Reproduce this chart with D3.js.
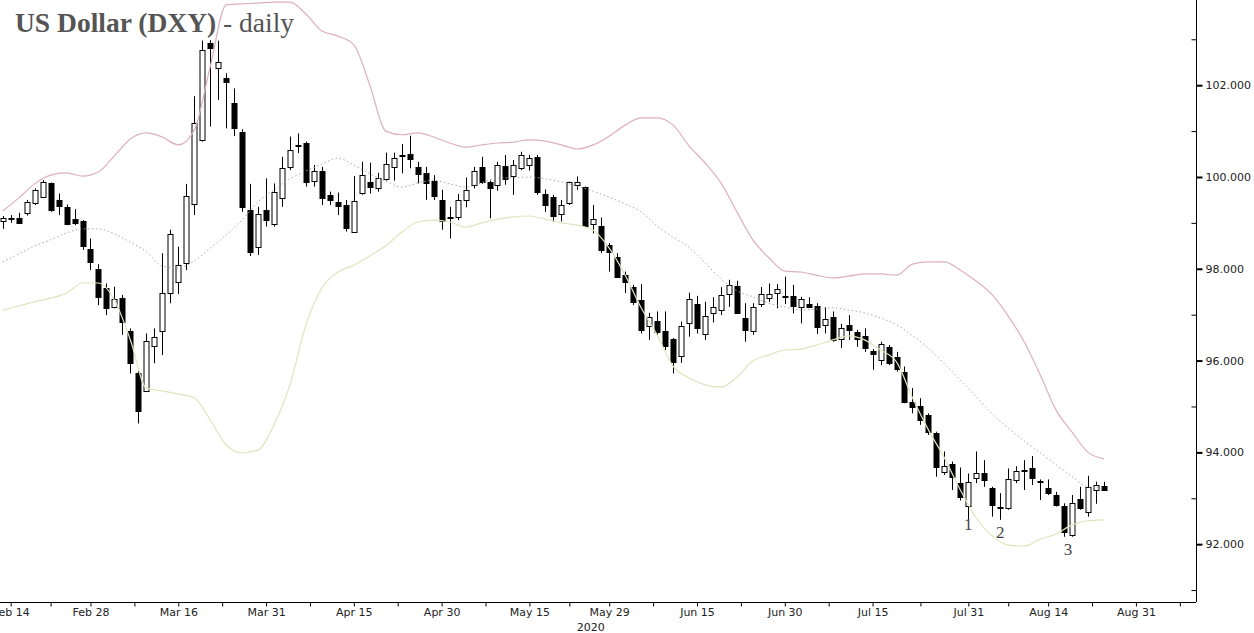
<!DOCTYPE html>
<html>
<head>
<meta charset="utf-8">
<script src="https://cdn.jsdelivr.net/npm/d3@7"></script>
<style>
  html, body { margin: 0; padding: 0; background: #fff; }
  svg { display: block; }
  .axis text { font-family: "DejaVu Sans", sans-serif; font-size: 11px; fill: #222; }
</style>
</head>
<body>
<div id="chart"></div>
<script>
// DXY daily candles, Feb 13 - Aug 25 2020 (one entry per weekday)
const opens = [99.03,99.10,99.11,99.21,99.44,99.56,99.86,99.50,99.34,99.08,
  99.05,98.43,97.99,97.59,97.16,97.36,96.65,95.72,95.34,96.33,
  96.65,97.47,97.71,98.13,99.41,100.81,102.93,102.37,102.15,101.61,
  100.99,99.28,98.47,99.28,98.99,99.54,100.22,100.70,100.75,99.90,
  100.12,99.61,99.46,99.39,98.81,99.64,99.90,99.75,99.95,100.21,
  100.48,100.50,100.22,100.09,99.91,99.50,99.11,99.12,99.51,99.81,
  100.22,99.88,99.83,100.24,100.02,100.19,100.26,100.43,99.64,99.56,
  99.19,99.43,99.83,99.78,98.98,98.93,98.51,98.26,97.86,97.60,
  97.32,96.74,96.86,96.65,96.46,96.09,96.81,97.23,96.58,97.02,
  97.10,97.45,97.63,96.92,96.63,97.23,97.36,97.47,97.41,97.41,
  97.16,97.23,97.19,96.78,96.96,96.45,96.78,96.62,96.54,96.20,
  96.01,96.30,96.07,95.76,95.10,95.01,94.81,94.42,93.56,93.75,
  93.33,92.82,93.44,93.54,93.22,92.80,92.80,93.41,93.60,93.67,
  93.38,93.22,93.07,92.83,92.20,92.98,92.71,93.19,93.27];
const highs = [99.15,99.17,99.22,99.50,99.75,99.93,99.88,99.64,99.40,99.30,
  99.06,98.66,98.10,97.68,97.61,97.43,96.70,95.77,96.59,96.70,
  98.34,98.85,98.48,99.85,101.76,102.97,102.98,102.97,102.26,101.93,
  101.04,99.85,99.35,99.97,99.86,100.44,100.88,100.95,100.77,100.26,
  100.22,99.68,99.66,99.50,100.02,100.33,100.31,100.09,100.53,100.53,
  100.72,100.90,100.33,100.22,100.04,99.72,99.35,99.63,99.99,100.22,
  100.44,99.92,100.33,100.48,100.37,100.55,100.48,100.48,99.73,99.61,
  99.50,99.90,100.01,99.79,99.39,99.12,98.56,98.34,97.94,97.65,
  97.67,97.04,97.07,97.07,96.49,96.85,97.48,97.41,97.28,97.38,
  97.60,97.76,97.74,97.25,97.25,97.60,97.68,97.67,97.83,97.65,
  97.39,97.38,97.25,97.16,97.07,96.80,96.99,96.67,96.70,96.25,
  96.41,96.34,96.19,95.87,95.40,95.18,94.85,94.45,94.02,93.80,
  93.67,93.54,94.02,93.83,93.25,93.11,93.65,93.70,93.83,93.92,
  93.41,93.41,93.14,92.89,93.07,93.25,93.49,93.36,93.36];
const lows = [98.87,99.00,99.00,99.16,99.39,99.54,99.24,99.17,98.95,98.95,
  98.41,97.97,97.21,96.99,97.14,96.56,95.72,94.63,95.32,95.94,
  96.12,97.25,97.45,97.97,99.17,100.77,101.10,101.68,101.06,100.89,
  99.24,98.28,98.30,98.92,98.92,99.35,100.15,100.52,99.79,99.79,
  99.39,99.39,99.17,98.81,98.81,99.61,99.64,99.68,99.92,99.92,
  100.08,100.19,99.86,99.50,99.50,98.85,98.66,99.06,99.34,99.75,
  99.85,99.10,99.70,99.83,99.61,100.15,100.14,99.61,99.24,99.03,
  99.03,99.39,99.72,98.90,98.77,98.34,97.94,97.81,97.47,97.21,
  96.59,96.45,96.56,96.23,95.72,95.95,96.52,96.59,96.45,96.83,
  96.99,97.17,97.03,96.41,96.56,97.17,97.28,97.14,97.23,97.03,
  96.81,97.16,96.58,96.59,96.41,96.27,96.45,96.30,96.19,95.80,
  95.90,95.90,95.76,95.07,94.85,94.60,94.38,93.47,93.51,93.18,
  92.95,92.53,93.33,93.25,92.60,92.53,92.75,93.33,93.18,93.29,
  92.96,93.07,92.82,92.16,92.16,92.75,92.60,92.88,93.18];
const closes = [99.10,99.10,99.01,99.45,99.72,99.88,99.27,99.37,98.98,99.00,
  98.50,98.14,97.38,97.16,97.34,96.83,95.95,94.90,96.43,96.52,
  97.47,98.76,98.08,99.59,101.17,102.77,102.83,102.50,102.06,101.06,
  99.35,98.37,99.19,99.06,99.68,100.19,100.59,100.68,99.90,100.12,
  99.54,99.50,99.37,98.88,99.48,100.04,99.80,99.97,100.28,100.41,
  100.47,100.39,100.06,99.88,99.59,99.04,99.12,99.50,99.72,100.12,
  99.90,99.75,100.26,99.95,100.26,100.48,100.41,99.67,99.39,99.15,
  99.39,99.88,99.90,98.93,99.08,98.41,98.35,97.83,97.70,97.28,
  96.67,96.94,96.61,96.32,95.95,96.75,97.34,96.70,96.97,97.16,
  97.43,97.65,97.04,96.65,97.16,97.45,97.45,97.55,97.40,97.19,
  97.34,97.17,96.73,96.90,96.45,96.70,96.67,96.46,96.27,96.13,
  96.36,95.95,95.80,95.10,95.00,94.71,94.43,93.68,93.70,93.46,
  93.02,93.35,93.54,93.38,92.85,92.81,93.43,93.60,93.62,93.46,
  93.37,93.11,92.85,92.27,92.89,92.78,93.25,93.30,93.19];

// Bollinger bands, one value every second trading day
const bandStep = 2;
const upperBand = [99.26,99.54,99.85,100.04,100.09,100.02,100.11,100.46,100.83,100.96,
  100.87,100.70,101.02,102.40,103.75,103.77,103.79,103.81,103.81,103.55,
  103.18,103.07,102.88,102.00,101.00,100.92,100.96,100.87,100.74,100.65,
  100.70,100.74,100.76,100.81,100.78,100.70,100.61,100.70,100.89,101.13,
  101.29,101.29,101.13,100.68,100.31,99.87,99.24,98.63,98.24,97.95,
  97.93,97.86,97.80,97.84,97.89,97.89,97.86,98.10,98.15,98.15,
  97.97,97.73,97.43,96.97,96.41,95.69,94.92,94.44,94.00,93.86];
const midBand = [98.15,98.32,98.50,98.63,98.78,98.87,98.87,98.76,98.58,98.37,
  98.06,98.02,98.17,98.45,98.74,99.06,99.46,99.72,99.96,100.13,
  100.28,100.41,100.26,100.07,99.91,99.78,99.87,99.93,99.85,99.78,
  99.87,99.98,99.98,100.00,99.96,99.89,99.80,99.69,99.56,99.41,
  99.24,98.93,98.69,98.47,98.13,97.78,97.52,97.39,97.25,97.17,
  97.10,97.12,97.15,97.10,97.04,96.93,96.78,96.54,96.27,95.93,
  95.58,95.21,94.84,94.53,94.25,93.99,93.73,93.47,93.25,93.22];
const lowerBand = [97.10,97.19,97.28,97.36,97.47,97.69,97.69,97.32,96.45,95.40,
  95.34,95.27,95.19,94.71,94.16,93.99,94.05,94.60,95.47,96.78,
  97.58,97.93,98.08,98.28,98.50,98.80,99.02,99.06,99.02,98.91,
  99.00,99.08,99.13,99.15,99.08,99.00,98.95,98.84,98.45,97.86,
  97.15,96.56,95.88,95.62,95.47,95.42,95.64,95.99,96.12,96.23,
  96.25,96.34,96.45,96.54,96.45,96.23,95.97,95.19,94.49,93.88,
  93.18,92.57,92.18,91.98,91.96,92.11,92.22,92.42,92.51,92.53];

// x axis: labelled trading days (index into the series)
const tickDays = [1, 11, 22, 33, 44, 55, 66, 76, 87, 98, 109, 121, 131, 142];
const tickLabels = ["Feb 14", "Feb 28", "Mar 16", "Mar 31", "Apr 15", "Apr 30", "May 15",
  "May 29", "Jun 15", "Jun 30", "Jul 15", "Jul 31", "Aug 14", "Aug 31"];
const nextTickDay = 153;
const yearLabel = "2020";
const yearDay = 73.7;

// y axis
const yMajor = [92, 94, 96, 98, 100, 102];
const yMinor = [91, 93, 95, 97, 99, 101, 103];

// wave count annotations
const noteText = ["1", "2", "3"];
const noteDay = [121, 125, 133.5];
const noteValue = [92.30, 92.13, 91.77];

const W = 1254, H = 633;
const plotRight = 1196, plotBottom = 602;

const x = d3.scaleLinear().domain([0, 138]).range([2.7, 1104]);
const y = d3.scaleLinear().domain([90.74, 103.856]).range([plotBottom, 0]);

const svg = d3.select("#chart").append("svg")
  .attr("width", W)
  .attr("height", H);

svg.append("clipPath").attr("id", "plotClip")
  .append("rect").attr("x", 0).attr("y", 0).attr("width", plotRight).attr("height", plotBottom);

const plot = svg.append("g").attr("clip-path", "url(#plotClip)");

const candles = opens.map((o, i) => ({i: i, o: o, h: highs[i], l: lows[i], c: closes[i]}));

const px = d => Math.round(x(d.i));

// wicks
plot.selectAll(".wick")
  .data(candles)
  .enter().append("line")
  .attr("class", "wick")
  .attr("x1", d => px(d) + 0.5)
  .attr("x2", d => px(d) + 0.5)
  .attr("y1", d => y(d.h))
  .attr("y2", d => y(d.l))
  .attr("stroke", "#000")
  .attr("stroke-width", 1);

// bodies
plot.selectAll(".body")
  .data(candles)
  .enter().append("rect")
  .attr("class", "body")
  .attr("x", d => px(d) - 2)
  .attr("width", 5)
  .attr("y", d => Math.round(y(Math.max(d.o, d.c))) + 0.5)
  .attr("height", d => Math.max(1, Math.round(Math.abs(y(d.o) - y(d.c)))))
  .attr("fill", d => d.c > d.o ? "#fff" : "#000")
  .attr("stroke", "#000")
  .attr("stroke-width", 1);

// bands on top of the candles
const bandLine = d3.line()
  .x((d, k) => x(k * bandStep))
  .y(d => y(d))
  .curve(d3.curveMonotoneX);

plot.append("path")
  .datum(upperBand)
  .attr("d", bandLine)
  .attr("fill", "none")
  .attr("stroke", "#ddb0bd")
  .attr("stroke-width", 1.2);

plot.append("path")
  .datum(lowerBand)
  .attr("d", bandLine)
  .attr("fill", "none")
  .attr("stroke", "#e2e3bf")
  .attr("stroke-width", 1.2);

plot.append("path")
  .datum(midBand)
  .attr("d", bandLine)
  .attr("fill", "none")
  .attr("stroke", "#a8a8a8")
  .attr("stroke-width", 1)
  .attr("stroke-dasharray", "1.5,2.5");

// right axis
const yAxis = svg.append("g").attr("class", "axis")
  .attr("transform", "translate(" + (plotRight + 0.5) + ",0)")
  .call(d3.axisRight(y).tickValues(yMajor).tickSize(6).tickPadding(3)
    .tickFormat(d3.format(".3f")));
yAxis.select(".domain").attr("d", "M0,0V" + plotBottom).attr("stroke", "#000");
yAxis.selectAll(".tick line").attr("stroke", "#000").attr("stroke-width", 2);

svg.append("g").attr("class", "axis")
  .attr("transform", "translate(" + (plotRight + 0.5) + ",0)")
  .call(d3.axisLeft(y).tickValues(yMinor).tickSize(5).tickFormat(""))
  .call(g => g.select(".domain").remove())
  .call(g => g.selectAll(".tick line").attr("stroke", "#000"));

// bottom axis
const xAxis = svg.append("g").attr("class", "axis")
  .attr("transform", "translate(0," + (plotBottom + 0.5) + ")")
  .call(d3.axisBottom(x).tickValues(tickDays).tickSize(4).tickPadding(2)
    .tickFormat((d, k) => tickLabels[k]));
xAxis.select(".domain").attr("d", "M0,0H" + plotRight).attr("stroke", "#000");
xAxis.selectAll(".tick line").attr("stroke", "#000");

const midDays = tickDays.map((d, k) => (d + (k < tickDays.length - 1 ? tickDays[k + 1] : nextTickDay)) / 2);
svg.append("g").attr("class", "axis")
  .attr("transform", "translate(0," + (plotBottom + 0.5) + ")")
  .call(d3.axisBottom(x).tickValues(midDays).tickSize(4).tickFormat(""))
  .call(g => g.select(".domain").remove())
  .call(g => g.selectAll(".tick line").attr("stroke", "#000"));

svg.append("text")
  .attr("x", x(yearDay))
  .attr("y", 631)
  .attr("text-anchor", "middle")
  .style("font-family", "DejaVu Sans, sans-serif")
  .style("font-size", "11px")
  .style("fill", "#222")
  .text(yearLabel);

// wave labels
svg.selectAll(".note")
  .data(noteText)
  .enter().append("text")
  .attr("class", "note")
  .attr("x", (d, k) => x(noteDay[k]))
  .attr("y", (d, k) => y(noteValue[k]))
  .attr("text-anchor", "middle")
  .style("font-family", "Liberation Serif, serif")
  .style("font-size", "17px")
  .style("fill", "#444")
  .text(d => d);

// title
const title = svg.append("text")
  .attr("x", 15)
  .attr("y", 32)
  .style("font-family", "Liberation Serif, serif")
  .style("font-size", "27.5px")
  .style("fill", "#555");
title.append("tspan").style("font-weight", "bold").text("US Dollar (DXY)");
title.append("tspan").text(" - daily");
</script>
</body>
</html>
